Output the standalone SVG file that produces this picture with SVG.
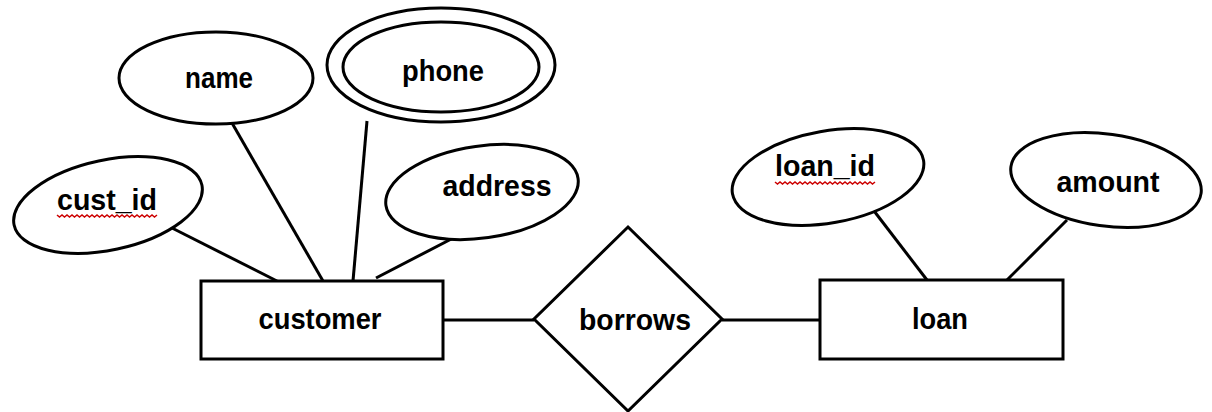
<svg xmlns="http://www.w3.org/2000/svg" width="1212" height="412" viewBox="0 0 1212 412">
<style>
.s{fill:#fff;stroke:#000;stroke-width:3}
.l{stroke:#000;stroke-width:3;fill:none}
.t{font-family:"Liberation Sans",Arial,sans-serif;font-weight:bold;font-size:30px;fill:#000;text-anchor:middle}
.w{fill:none;stroke:#c00;stroke-width:1.5}
</style>
<rect width="1212" height="412" fill="#fff"/>
<g id="connectors">
<line class="l" x1="172" y1="228" x2="277" y2="281"/>
<line class="l" x1="232" y1="123" x2="323" y2="281"/>
<line class="l" x1="367" y1="121" x2="353" y2="281"/>
<line class="l" x1="459" y1="235" x2="376" y2="278"/>
<line class="l" x1="443" y1="320" x2="534" y2="320"/>
<line class="l" x1="722" y1="320" x2="820" y2="320"/>
<line class="l" x1="871" y1="207" x2="927" y2="280"/>
<line class="l" x1="1067" y1="220" x2="1007" y2="280"/>
</g>
<g id="cust_id">
<ellipse class="s" cx="108" cy="205" rx="96" ry="45" transform="rotate(-12 108 205)"/>
<text class="t" x="107" y="210" textLength="100" lengthAdjust="spacingAndGlyphs">cust_id</text>
<path class="w" d="M57 215 l2.5 2 l2.5 -2 l2.5 2 l2.5 -2 l2.5 2 l2.5 -2 l2.5 2 l2.5 -2 l2.5 2 l2.5 -2 l2.5 2 l2.5 -2 l2.5 2 l2.5 -2 l2.5 2 l2.5 -2 l2.5 2 l2.5 -2 l2.5 2 l2.5 -2 l2.5 2 l2.5 -2 l2.5 2 l2.5 -2 l2.5 2 l2.5 -2 l2.5 2 l2.5 -2 l2.5 2 l2.5 -2 l2.5 2 l2.5 -2 l2.5 2 l2.5 -2 l2.5 2 l2.5 -2 l2.5 2 l2.5 -2 l2.5 2 l2.5 -2"/>
</g>
<g id="name">
<ellipse class="s" cx="216" cy="78" rx="97" ry="46"/>
<text class="t" x="219" y="88" textLength="68" lengthAdjust="spacingAndGlyphs">name</text>
</g>
<g id="phone">
<ellipse class="s" cx="441" cy="65" rx="114" ry="57"/>
<ellipse class="s" cx="441" cy="67" rx="98" ry="45"/>
<text class="t" x="443" y="81" textLength="82" lengthAdjust="spacingAndGlyphs">phone</text>
</g>
<g id="address">
<ellipse class="s" cx="482" cy="192" rx="97" ry="46" transform="rotate(-8 482 192)"/>
<text class="t" x="497" y="196" textLength="109" lengthAdjust="spacingAndGlyphs">address</text>
</g>
<g id="customer">
<rect class="s" x="201" y="281" width="242" height="78"/>
<text class="t" x="320" y="329" textLength="123" lengthAdjust="spacingAndGlyphs">customer</text>
</g>
<g id="borrows">
<polygon class="s" points="628,227 722,319 628,411 534,319"/>
<text class="t" x="635" y="330" textLength="112" lengthAdjust="spacingAndGlyphs">borrows</text>
</g>
<g id="loan">
<rect class="s" x="820" y="280" width="243" height="79"/>
<text class="t" x="940" y="329" textLength="56" lengthAdjust="spacingAndGlyphs">loan</text>
</g>
<g id="loan_id">
<ellipse class="s" cx="828" cy="177" rx="97" ry="46" transform="rotate(-10 828 177)"/>
<text class="t" x="825" y="176" textLength="100" lengthAdjust="spacingAndGlyphs">loan_id</text>
<path class="w" d="M775 182 l2.5 2 l2.5 -2 l2.5 2 l2.5 -2 l2.5 2 l2.5 -2 l2.5 2 l2.5 -2 l2.5 2 l2.5 -2 l2.5 2 l2.5 -2 l2.5 2 l2.5 -2 l2.5 2 l2.5 -2 l2.5 2 l2.5 -2 l2.5 2 l2.5 -2 l2.5 2 l2.5 -2 l2.5 2 l2.5 -2 l2.5 2 l2.5 -2 l2.5 2 l2.5 -2 l2.5 2 l2.5 -2 l2.5 2 l2.5 -2 l2.5 2 l2.5 -2 l2.5 2 l2.5 -2 l2.5 2 l2.5 -2 l2.5 2 l2.5 -2"/>
</g>
<g id="amount">
<ellipse class="s" cx="1106" cy="180" rx="96" ry="46" transform="rotate(8 1106 180)"/>
<text class="t" x="1108" y="192" textLength="103" lengthAdjust="spacingAndGlyphs">amount</text>
</g>
</svg>
